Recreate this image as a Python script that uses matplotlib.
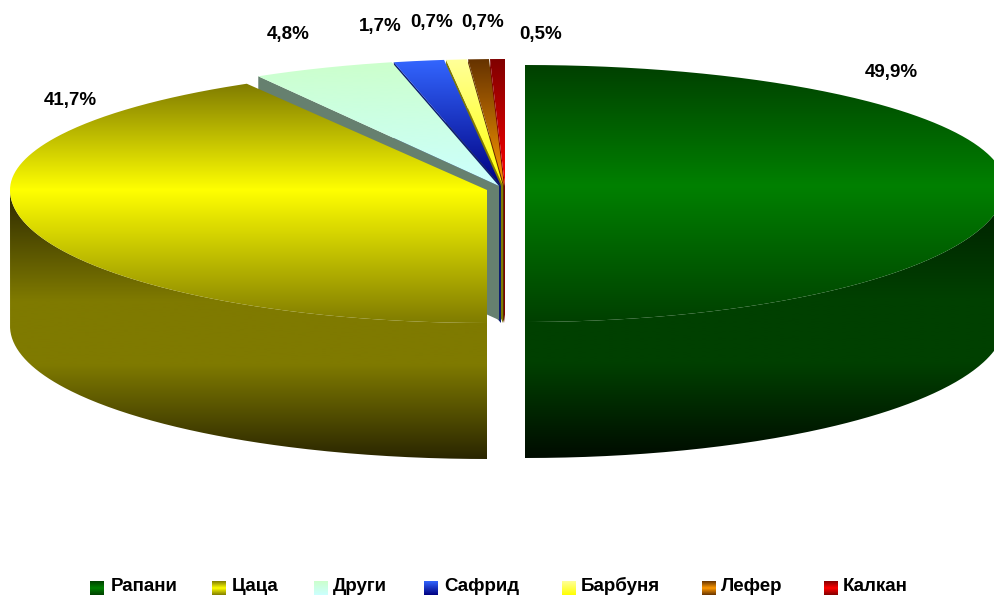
import numpy as np
import matplotlib
matplotlib.use('Agg')
import matplotlib.pyplot as plt
from matplotlib.colors import to_rgb
from matplotlib.path import Path
from matplotlib.patches import PathPatch, Polygon

plt.rcParams['font.family'] = ['Liberation Sans', 'DejaVu Sans']

# data
names = ['Рапани', 'Цаца', 'Други', 'Сафрид', 'Барбуня', 'Лефер', 'Калкан']
shares = [49.9, 41.7, 4.8, 1.7, 0.7, 0.7, 0.5]
pct_labels = ['49,9%', '41,7%', '4,8%', '1,7%', '0,7%', '0,7%', '0,5%']

# gradient stops of the top faces and the legend swatches
top_colors = [
    ['#004000', '#008000', '#004000'],
    ['#807c00', '#ffff00', '#807c00'],
    ['#ccffcc', '#ccffff'],
    ['#3366ff', '#000080'],
    ['#ffff99', '#ffff00'],
    ['#663300', '#ff9900', '#663300'],
    ['#800000', '#ff0000', '#800000'],
]
wall_colors = {
    0: ['#001c00', '#004000', '#004000', '#000c00'],
    1: ['#2c2800', '#7f7a00', '#7f7a00', '#2a2600'],
}
cut_colors = {2: '#66806f', 3: '#0c1c70', 4: '#807a00', 5: '#5a2d00', 6: '#800000'}

# layout of each slice: apex x, apex y, radius x, back radius y, front radius y, wall height
geom = [
    (525, 186, 480, 121, 136, 136),
    (487, 190, 477, 123, 133, 136),
    (499, 186, 478, 127, 127, 134),
    (501, 186, 478, 127, 127, 137),
    (503, 186, 478, 127, 127, 137),
    (504, 186, 478, 127, 127, 137),
    (505, 186, 478, 127, 127, 137),
]
label_pos = [(891, 73), (70, 101), (288, 35), (380, 26), (432, 22), (483, 22), (541, 35)]
legend_swatch_x = [90, 212, 314, 424, 562, 702, 824]
legend_text_x = [111, 232, 333, 444, 581, 721, 843]

fig = plt.figure(figsize=(9.94, 5.96), dpi=100)
ax = fig.add_axes([0, 0, 1, 1])
ax.set_xlim(0, 994)
ax.set_ylim(596, 0)
ax.axis('off')


def grad_fill(verts, stops, y0, y1, ys=None, z=1):
    # vertical gradient clipped to a polygon
    pos = np.linspace(0, 1, len(stops)) if ys is None else ys
    rgb = np.array([to_rgb(c) for c in stops])
    t = np.linspace(0, 1, 256)
    img = np.stack([np.interp(t, pos, rgb[:, i]) for i in range(3)], axis=1)[:, None, :]
    im = ax.imshow(img, extent=(0, 994, y1, y0), aspect='auto', zorder=z, interpolation='bilinear')
    patch = PathPatch(Path(verts), transform=ax.transData, fc='none', ec='none')
    ax.add_patch(patch)
    im.set_clip_path(patch)


def rim(g, th):
    cx, cy, a, bb, bf, h = g
    b = np.where(np.cos(th) > 0, bb, bf)
    return cx + a * np.sin(th), cy - b * np.cos(th)


edges = np.radians(np.cumsum([0] + shares) * 3.6)
# the two big slices meet the gap with a straight vertical edge
edges[1] = np.pi

# draw right to left so that each slice sits over the cut wall of its neighbour
z = 2
for i in [6, 5, 4, 3, 2, 1, 0]:
    g = geom[i]
    cx, cy, a, bb, bf, h = g
    th = np.linspace(edges[i], edges[i + 1], 300)
    x, y = rim(g, th)
    if i in cut_colors:
        ax.add_patch(Polygon([(x[0], y[0]), (cx, cy), (cx, cy + h), (x[0], y[0] + h)],
                             closed=True, fc=cut_colors[i], ec='none', zorder=z))
    if i in wall_colors:
        front = np.cos(th) <= 0
        xf, yf = x[front], y[front]
        verts = np.vstack([np.c_[xf, yf], np.c_[xf[::-1], yf[::-1] + h]])
        grad_fill(verts, wall_colors[i], cy, cy + bf + h, ys=[0, 0.41, 0.65, 1], z=z)
    verts = np.vstack([[(cx, cy)], np.c_[x, y], [(cx, cy)]])
    stops = top_colors[i]
    if len(stops) == 3:
        y0 = 83 if i == 1 else cy - bb
        grad_fill(verts, stops, y0, cy + bf, ys=[0, (cy - y0) / (cy + bf - y0), 1], z=z + 1)
    else:
        grad_fill(verts, stops, y.min(), cy, z=z + 1)
    z += 2

for lab, (px, py) in zip(pct_labels, label_pos):
    ax.text(px, py, lab, ha='center', va='center', fontsize=13.5, fontweight='bold', color='black', zorder=40)

# legend
for i, name in enumerate(names):
    sx = legend_swatch_x[i]
    grad_fill([(sx, 581), (sx + 14, 581), (sx + 14, 595), (sx, 595), (sx, 581)],
              top_colors[i], 581, 595, z=40)
    ax.text(legend_text_x[i], 591, name, ha='left', va='baseline', fontsize=13.5,
            fontweight='bold', color='black', zorder=40)

ax.set_xlim(0, 994)
ax.set_ylim(596, 0)
fig.savefig('out.png', dpi=100)
